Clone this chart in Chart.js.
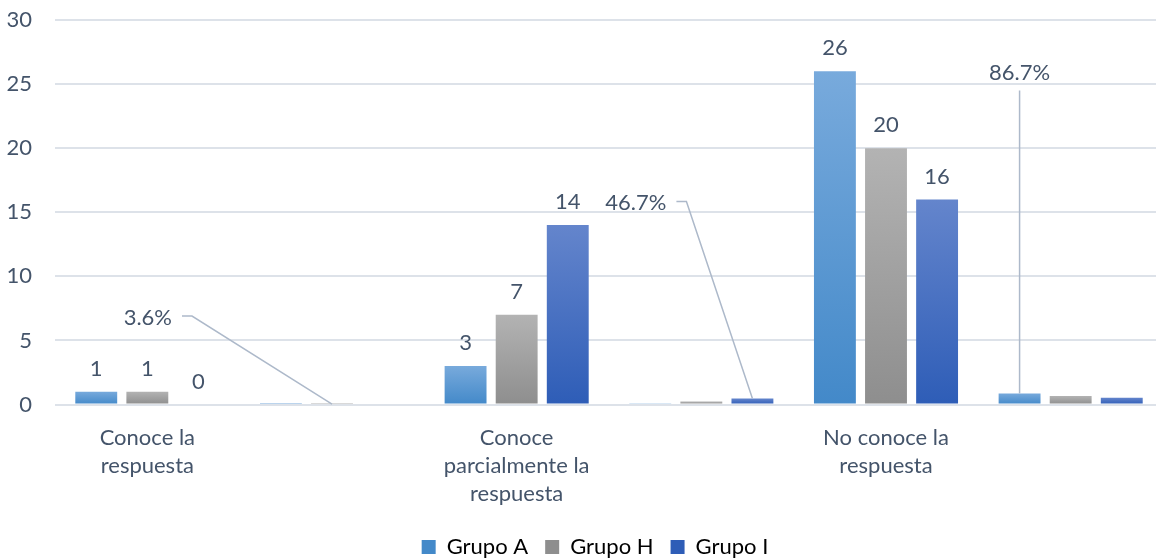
<!DOCTYPE html>
<html>
<head>
<meta charset="utf-8">
<script src="https://cdn.jsdelivr.net/npm/chart.js@4.4.1/dist/chart.umd.min.js"></script>
<style>
  html, body { margin: 0; padding: 0; background: #fff; }
  #wrap { width: 1156px; height: 558px; }
</style>
</head>
<body>
<div id="wrap"><canvas id="c"></canvas></div>
<script>
/* Chart data */
const categories = [['Conoce la', 'respuesta'], '', ['Conoce', 'parcialmente la', 'respuesta'], '', ['No conoce la', 'respuesta'], ''];
const seriesNames = ['Grupo A', 'Grupo H', 'Grupo I'];
const grupoA = [1, 0.033, 3, 0.1, 26, 0.867];
const grupoH = [1, 0.036, 7, 0.233, 20, 0.667];
const grupoI = [0, 0, 14, 0.467, 16, 0.533];
const countIdx = [0, 2, 4];          // categories that show counts above bars
const pctBars = [[1, 1], [2, 3], [0, 5]]; // [dataset, index] bars with a % callout
const yMax = 30, yStep = 5;

const TXT = '#44546A';
const FONT = 'Lato, "Noto Sans", sans-serif';
const COLORS = [
  ['#78AADC', '#4389C9'],
  ['#B3B3B3', '#8E8E8E'],
  ['#6485CC', '#2E5DB7']
];

const grad = i => ctx => {
  const chart = ctx.chart, c = COLORS[i];
  if (!chart.chartArea || ctx.raw == null) return c[1];
  const y = chart.scales.y;
  const top = y.getPixelForValue(ctx.raw), bot = y.getPixelForValue(0);
  if (bot - top < 1) return c[0];
  const g = chart.ctx.createLinearGradient(0, top, 0, bot);
  g.addColorStop(0, c[0]);
  g.addColorStop(1, c[1]);
  return g;
};

/* labels: counts above bars and % callouts with leader lines */
const calloutStyle = [
  { text: [-160, -86, 'right'], line: [[-140, -88], [-150, -88]] },
  { text: [-86, -196, 'right'], line: [[-66, -197], [-76, -197]] },
  { text: [0, -321, 'center'], line: [[0, -303]] }
];

const labelPlugin = {
  id: 'labels',
  afterLayout(chart) {
    // plot area runs a little past the right edge, legend sits right of centre
    const x = chart.scales.x;
    x.right += 7; x.width += 7;
    x.configure();
    chart.legend.left += 17; chart.legend.right += 17;
  },
  afterDatasetsDraw(chart) {
    const ctx = chart.ctx;
    ctx.save();
    ctx.font = '22px ' + FONT;
    ctx.fillStyle = TXT;
    ctx.textBaseline = 'middle';
    chart.data.datasets.forEach((ds, di) => {
      const meta = chart.getDatasetMeta(di);
      countIdx.forEach(i => {
        const el = meta.data[i];
        ctx.textAlign = 'center';
        ctx.fillText(String(ds.data[i]), el.x, el.y - 23);
      });
    });
    pctBars.forEach(([di, i], k) => {
      const el = chart.getDatasetMeta(di).data[i];
      const st = calloutStyle[k];
      ctx.strokeStyle = '#ADB9CA';
      ctx.lineWidth = 1.5;
      ctx.beginPath();
      ctx.moveTo(el.x, el.y);
      st.line.forEach(p => ctx.lineTo(el.x + p[0], el.y + p[1]));
      ctx.stroke();
      ctx.textAlign = st.text[2];
      const v = chart.data.datasets[di].data[i];
      ctx.fillText((v * 100).toFixed(1) + '%', el.x + st.text[0], el.y + st.text[1]);
    });
    ctx.restore();
  }
};

new Chart(document.getElementById('c'), {
  type: 'bar',
  data: {
    labels: categories,
    datasets: [grupoA, grupoH, grupoI].map((d, i) => ({
      label: seriesNames[i], data: d, backgroundColor: grad(i),
      categoryPercentage: 0.83, barPercentage: 0.82
    }))
  },
  options: {
    responsive: true, maintainAspectRatio: false, animation: false,
    layout: { padding: { left: 0, right: 0, top: 0, bottom: -10 } },
    scales: {
      x: {
        grid: { display: false }, border: { display: false },
        ticks: { color: TXT, font: { family: FONT, size: 22, lineHeight: 1.28 }, padding: 11, maxRotation: 0, autoSkip: false }
      },
      y: {
        min: 0, max: yMax,
        afterFit: s => { s.width = 55; s.paddingTop = 20; s.paddingBottom = 0; },
        grid: { color: '#DDE2E9', lineWidth: 2, drawTicks: false }, border: { display: false },
        ticks: { stepSize: yStep, color: TXT, font: { family: FONT, size: 22 }, padding: 23 }
      }
    },
    plugins: {
      tooltip: { enabled: false },
      legend: {
        position: 'bottom',
        labels: {
          color: TXT, font: { family: FONT, size: 22 }, boxWidth: 14, boxHeight: 14, padding: 17,
          generateLabels: chart => chart.data.datasets.map((ds, i) => ({
            text: ds.label, fillStyle: COLORS[i][1], strokeStyle: COLORS[i][1], lineWidth: 0, datasetIndex: i
          }))
        }
      }
    }
  },
  plugins: [labelPlugin]
});
</script>
</body>
</html>
